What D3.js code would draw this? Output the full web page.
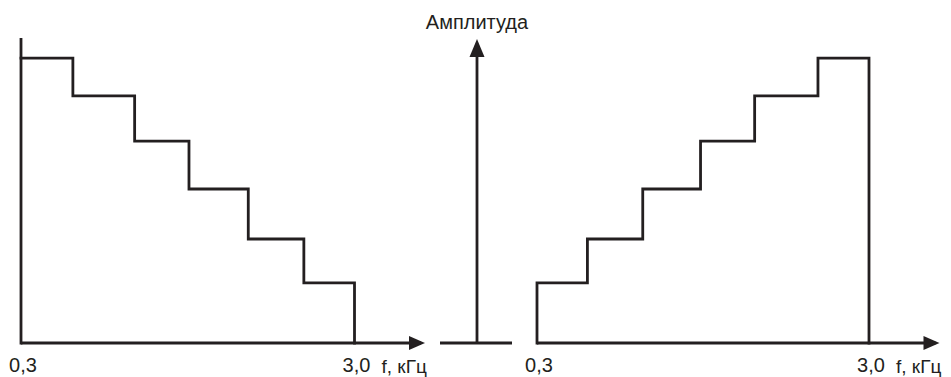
<!DOCTYPE html>
<html>
<head>
<meta charset="utf-8">
<script src="https://cdn.jsdelivr.net/npm/d3@7"></script>
<style>
  html, body { margin: 0; padding: 0; background: #fff; }
  svg { display: block; }
  text { font-family: "Liberation Sans", Arial, sans-serif; fill: #231f20; }
</style>
</head>
<body>
<script>
// ---- data ----
const freqTicks = ["0,3", "3,0"];
const freqDomain = [0.3, 3.0];
const axisLabelX = "f, кГц";
const axisLabelY = "Амплитуда";
// left panel: descending staircase (step start frequencies, kHz)
const leftStepStarts = [0.3, 0.72, 1.22, 1.66, 2.14, 2.59];
const leftLevels = [0.934, 0.81, 0.662, 0.505, 0.341, 0.197];
// right panel: ascending staircase
const rightStepStarts = [0.3, 0.71, 1.16, 1.63, 2.07, 2.585];
const rightLevels = [0.197, 0.341, 0.505, 0.662, 0.81, 0.934];

// ---- layout ----
const W = 951, H = 377;
const ink = "#231f20";
const baseY = 343, topY = 38;

const svg = d3.select("body").append("svg")
  .attr("width", W).attr("height", H);

const y = d3.scaleLinear().domain([0, 1]).range([baseY, topY]);
const xL = d3.scaleLinear().domain(freqDomain).range([21, 354.5]);
const xR = d3.scaleLinear().domain(freqDomain).range([537, 869]);

function arrowRight(xTip, yy) {
  svg.append("path")
    .attr("d", `M${xTip},${yy} L${xTip - 16},${yy - 7} L${xTip - 16},${yy + 7} Z`)
    .attr("fill", ink);
}
function arrowUp(xx, yTip) {
  svg.append("path")
    .attr("d", `M${xx},${yTip} L${xx - 7.5},${yTip + 18} L${xx + 7.5},${yTip + 18} Z`)
    .attr("fill", ink);
}

function staircase(x, starts, levels, fromZero) {
  const pts = [];
  if (fromZero) pts.push([freqDomain[0], 0]);
  starts.forEach((s, i) => pts.push([s, levels[i]]));
  pts.push([freqDomain[1], levels[levels.length - 1]]);
  pts.push([freqDomain[1], 0]);
  const line = d3.line().x(d => x(d[0])).y(d => y(d[1])).curve(d3.curveStepAfter);
  svg.append("path").attr("d", line(pts))
    .attr("fill", "none").attr("stroke", ink).attr("stroke-width", 2.8)
    .attr("stroke-linejoin", "miter").attr("stroke-linecap", "square");
}

function panel(x, starts, levels, fromZero, withYAxis) {
  const x0 = x(freqDomain[0]);
  const xEnd = x(freqDomain[1]) + 70.5;
  // x axis baseline with arrow
  svg.append("line").attr("x1", x0).attr("x2", xEnd - 4)
    .attr("y1", baseY).attr("y2", baseY)
    .attr("stroke", ink).attr("stroke-width", 2.8);
  arrowRight(xEnd, baseY);
  if (withYAxis) {
    svg.append("line").attr("x1", x0).attr("x2", x0)
      .attr("y1", baseY + 1.4).attr("y2", topY)
      .attr("stroke", ink).attr("stroke-width", 2.8);
  }
  staircase(x, starts, levels, fromZero);
  // tick labels
  freqTicks.forEach((t, i) => {
    svg.append("text").attr("x", x(freqDomain[i]) + 2).attr("y", 372)
      .attr("text-anchor", "middle").attr("font-size", 20).text(t);
  });
  svg.append("text").attr("x", x(freqDomain[1]) + 27).attr("y", 373)
    .attr("font-size", 19).text(axisLabelX);
}

panel(xL, leftStepStarts, leftLevels, false, true);
panel(xR, rightStepStarts, rightLevels, true, false);

// central amplitude axis
const cx = 477;
svg.append("line").attr("x1", 440).attr("x2", 512)
  .attr("y1", baseY).attr("y2", baseY)
  .attr("stroke", ink).attr("stroke-width", 2.8);
svg.append("line").attr("x1", cx).attr("x2", cx)
  .attr("y1", baseY).attr("y2", 50)
  .attr("stroke", ink).attr("stroke-width", 2.8);
arrowUp(cx, 39);
svg.append("text").attr("x", cx).attr("y", 29)
  .attr("text-anchor", "middle").attr("font-size", 20).text(axisLabelY);
</script>
</body>
</html>
